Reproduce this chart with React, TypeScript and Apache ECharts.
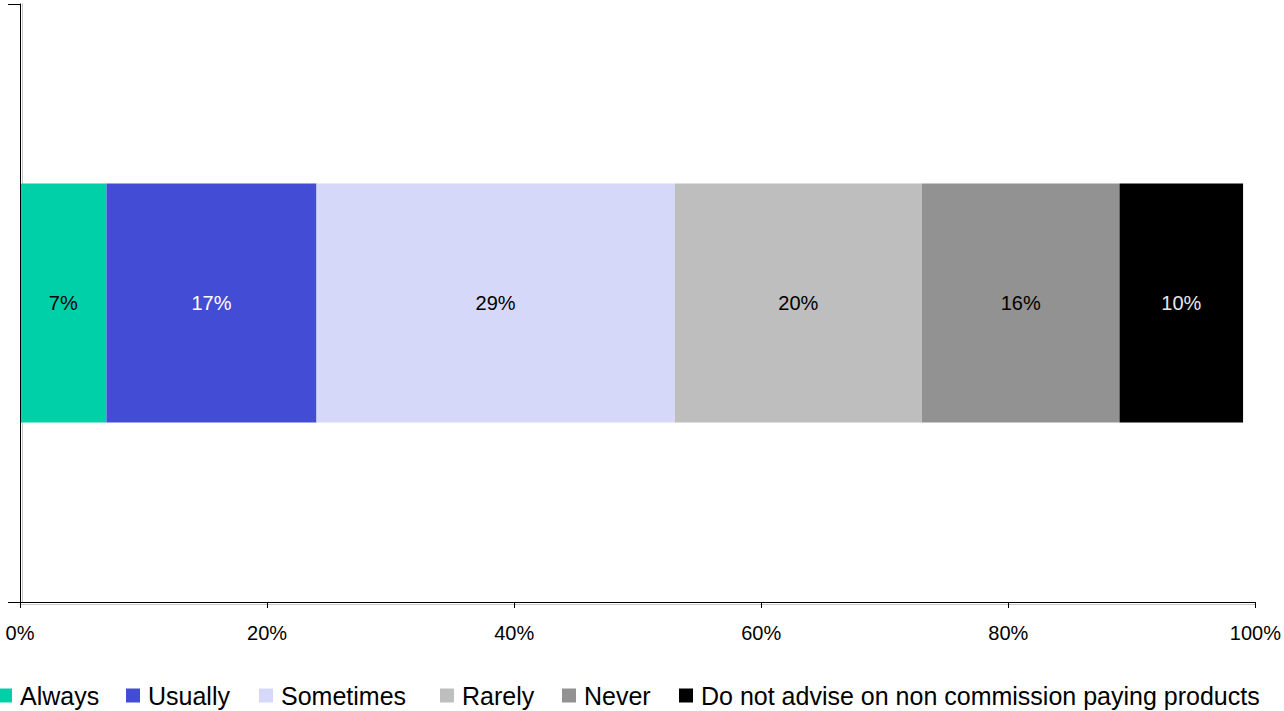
import React, { useEffect, useRef } from "react";
import * as echarts from "echarts";

const categories = ["All"];
const seriesNames = [
  "Always",
  "Usually",
  "Sometimes",
  "Rarely",
  "Never",
  "Do not advise on non commission paying products",
];
const seriesValues = [7, 17, 29, 20, 16, 10];
const seriesColors = ["#00D0A8", "#434CD4", "#D6D8FA", "#BEBEBE", "#929292", "#000000"];
const labelColors = ["#000000", "#FFFFFF", "#000000", "#000000", "#000000", "#E8E8E8"];
const xTicks = [0, 20, 40, 60, 80, 100];
const legendLefts = [-2, 126, 259, 440, 562, 679];

export default function App() {
  const ref = useRef<HTMLDivElement>(null);
  useEffect(() => {
    document.body.style.margin = "0";
    const chart = echarts.init(ref.current!, undefined, { renderer: "svg" });
    const axisLineStyle = { color: "#000", width: 1 };
    const shadowLine = { show: true, onZero: false, lineStyle: { color: "#C8C8C8", width: 1 } };
    chart.setOption({
      animation: false,
      textStyle: { fontFamily: "Liberation Sans, Arial, sans-serif" },
      grid: { left: 20, right: 22, top: 4, bottom: 109, containLabel: false },
      xAxis: [
        {
          type: "value",
          min: 0,
          max: 100,
          interval: 20,
          z: 3,
          axisLine: { show: true, onZero: false, lineStyle: axisLineStyle },
          axisTick: { show: true, length: 6, lineStyle: { color: "#000" } },
          splitLine: { show: false },
          axisLabel: {
            formatter: (v: number) => (xTicks.includes(v) ? v + "%" : ""),
            fontSize: 20,
            color: "#000",
            margin: 21,
          },
        },
        {
          type: "value",
          min: 0,
          max: 100,
          position: "bottom",
          offset: 2,
          z: 1,
          axisLine: shadowLine,
          axisTick: { show: false },
          axisLabel: { show: false },
          splitLine: { show: false },
        },
      ],
      yAxis: [
        {
          type: "category",
          data: categories,
          z: 3,
          axisLine: { show: true, onZero: false, lineStyle: axisLineStyle },
          axisTick: { show: true, length: 12, alignWithLabel: false, lineStyle: { color: "#000" } },
          axisLabel: { show: false },
        },
        {
          type: "category",
          data: categories,
          position: "left",
          offset: -2,
          z: 1,
          axisLine: shadowLine,
          axisTick: { show: false },
          axisLabel: { show: false },
          splitLine: { show: false },
        },
      ],
      legend: seriesNames.map((name, i) => ({
        left: legendLefts[i],
        top: 683,
        padding: 0,
        itemWidth: 14,
        itemHeight: 14,
        itemGap: 0,
        icon: "rect",
        textStyle: { fontSize: 25, color: "#000", padding: [0, 0, 0, 3] },
        data: [name],
      })),
      series: seriesNames.map((name, i) => ({
        name,
        type: "bar",
        stack: "total",
        xAxisIndex: 0,
        yAxisIndex: 0,
        barWidth: "40%",
        data: [seriesValues[i]],
        itemStyle: { color: seriesColors[i] },
        label: {
          show: true,
          position: "inside",
          formatter: "{c}%",
          fontSize: 20,
          color: labelColors[i],
        },
      })),
    });
    return () => chart.dispose();
  }, []);
  return <div ref={ref} style={{ width: 1284, height: 711 }} />;
}
